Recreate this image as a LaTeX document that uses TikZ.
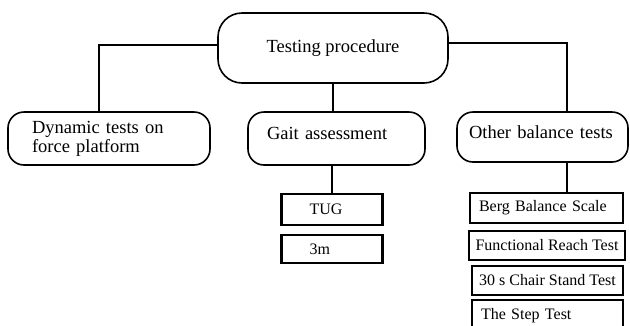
\documentclass[tikz,border=0pt]{standalone}
\usepackage{fontspec}
\setmainfont{Liberation Serif}
\begin{document}
\begin{tikzpicture}[x=1pt,y=-1pt,
		line width=1.6pt,
		bigbox/.style={draw,rounded corners=16pt,line width=1.6pt,align=left,inner ysep=0pt,
			font=\fontsize{18.5}{19}\selectfont},
		testbox/.style={draw,line width=2.6pt,align=left,inner ysep=0pt,
			font=\fontsize{16}{18}\selectfont}]
				\useasboundingbox (0,0) rectangle (630,325);
				\node[bigbox,rounded corners=24pt,minimum width=230pt,minimum height=70pt,
					align=center] (proc) at (333,48) {Testing procedure};
				\node[bigbox,minimum height=53pt,inner xsep=24pt,text width=154pt]
					(dyn) at (109,138.5) {Dynamic tests on\\force platform};
				\node[bigbox,minimum height=53pt,inner xsep=19pt,text width=139pt,text depth=10pt]
					(gait) at (336.5,138.5) {Gait assessment};
				\node[bigbox,minimum height=50pt,inner xsep=12pt,text width=147pt,text depth=10pt]
					(oth) at (542.5,137) {Other balance tests};
				% gait tests
				\node[testbox,minimum height=31pt,inner xsep=28pt,text width=45pt]
					(tug) at (332,209.5) {TUG};
				\node[testbox,minimum height=28pt,inner xsep=28pt,text width=45pt]
					(three) at (332,249) {3m};
				% balance tests
				\node[testbox,minimum height=30pt,inner xsep=9pt,text width=135pt]
					(berg) at (546.5,208) {Berg Balance Scale};
				\node[testbox,minimum height=29pt,minimum width=156pt,inner xsep=2pt]
					(reach) at (547,245.5) {Functional Reach Test};
				\node[testbox,minimum height=29pt,minimum width=151pt,inner xsep=2pt]
					(chair) at (547.5,280.5) {30 s Chair Stand Test};
				\node[testbox,minimum height=32pt,inner xsep=9pt,text width=133pt]
					(steptest) at (547.5,316) {The Step Test};
				\draw ([yshift=3pt]proc.west) -| ([xshift=-10pt]dyn.north);
				\draw ([yshift=5pt]proc.east) -| ([xshift=24.5pt]oth.north);
				\draw (proc.south) -- (proc.south |- gait.north);
				\draw (tug.north |- gait.south) -- (tug.north);
				\draw ([xshift=24.5pt]oth.south) -- ([xshift=24.5pt]oth.south |- berg.north);
\end{tikzpicture}
\end{document}
